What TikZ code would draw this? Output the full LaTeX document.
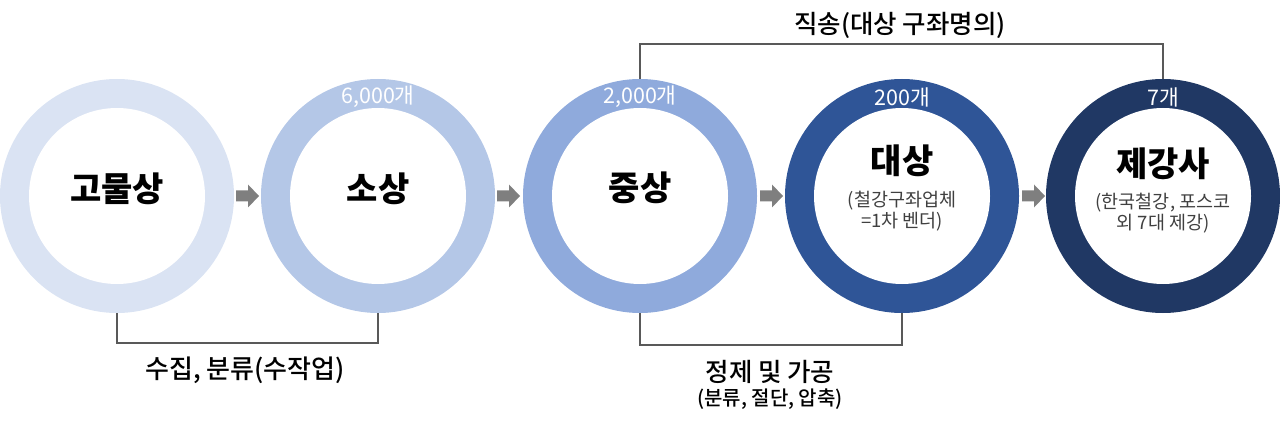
\documentclass[tikz,border=0pt]{standalone}
\usepackage{fontspec}
\newfontfamily\kr{Noto Sans CJK KR}
\newfontfamily\krm{Noto Sans CJK KR Medium}
\definecolor{ca}{HTML}{DAE3F3}
\definecolor{cb}{HTML}{B4C7E7}
\definecolor{cc}{HTML}{8FAADC}
\definecolor{cd}{HTML}{2F5597}
\definecolor{ce}{HTML}{203864}
\definecolor{lin}{HTML}{595959}
\definecolor{arr}{HTML}{7F7F7F}
\definecolor{sub}{HTML}{404040}
\begin{document}
\begin{tikzpicture}[x=1pt,y=-1pt,
  ring/.style={circle, minimum size=234pt, inner sep=0pt, draw=none},
  hole/.style={circle, minimum size=176pt, inner sep=0pt, fill=white},
  mainlbl/.style={font=\kr\bfseries\fontsize{34}{38}\selectfont, inner sep=0pt},
  sublbl/.style={font=\kr\fontsize{18.5}{22}\selectfont, text=sub, align=center, inner sep=0pt},
  cnt/.style={font=\kr\fontsize{21.5}{24}\selectfont, text=white, inner sep=0pt},
  note/.style={font=\krm\fontsize{26}{30}\selectfont, inner sep=0pt},
  blkarrow/.style={fill=arr, draw=none},
  conn/.style={draw=lin, line width=1.6pt}
]
\useasboundingbox (0,0) rectangle (1280,422);

% rings
\node[ring, fill=ca] (r1) at (117,196) {};
\node[ring, fill=cb] (r2) at (378,196) {};
\node[ring, fill=cc] (r3) at (640,196) {};
\node[ring, fill=cd] (r4) at (902,196) {};
\node[ring, fill=ce] (r5) at (1163,196) {};
\foreach \i in {1,...,5} {\node[hole] (h\i) at (r\i) {};}

% block arrows
\coordinate (a1) at (248,196);
\coordinate (a2) at (509,196);
\coordinate (a3) at (772,196);
\coordinate (a4) at (1034,196);
\foreach \a in {a1,a2,a3,a4} {
  \fill[blkarrow] (\a) ++(-12,-5.5) -- ++(12,0) -- ++(0,-6) -- ++(11,11.5)
    -- ++(-11,11.5) -- ++(0,-6) -- ++(-12,0) -- cycle;
}

% main labels
\node[mainlbl] (t1) at (117,189) {고물상};
\node[mainlbl] (t2) at (378,189) {소상};
\node[mainlbl] (t3) at (640,188) {중상};
\node[mainlbl] (t4) at (902,161) {대상};
\node[mainlbl] (t5) at (1163,164) {제강사};
\node[sublbl] (s4a) at (902,201) {(철강구좌업체};
\node[sublbl] (s4b) at (902,222) {=1차 벤더)};
\node[sublbl] (s5a) at (1163,203) {(한국철강, 포스코};
\node[sublbl] (s5b) at (1163,224) {외 7대 제강)};

% counts
\node[cnt] (n2) at (378,97) {6,000개};
\node[cnt] (n3) at (640,97) {2,000개};
\node[cnt] (n4) at (902,97) {200개};
\node[cnt] (n5) at (1163,97) {7개};

% connectors
\draw[conn] (r1.south) -- ++(0,30) -| (r2.south);
\draw[conn] (r3.south) -- ++(0,32) -| (r4.south);
\draw[conn] (r3.north) -- ++(0,-35) -| (r5.north);

% notes
\node[note] (b1) at (245,370) {수집, 분류(수작업)};
\node[note, font=\krm\fontsize{25.5}{30}\selectfont] (b2) at (770,372) {정제 및 가공};
\node[note, font=\krm\fontsize{20}{24}\selectfont] (b3) at (770,399) {(분류, 절단, 압축)};
\node[note, font=\krm\fontsize{25.5}{30}\selectfont] (b4) at (900,25) {직송(대상 구좌명의)};
\end{tikzpicture}
\end{document}
